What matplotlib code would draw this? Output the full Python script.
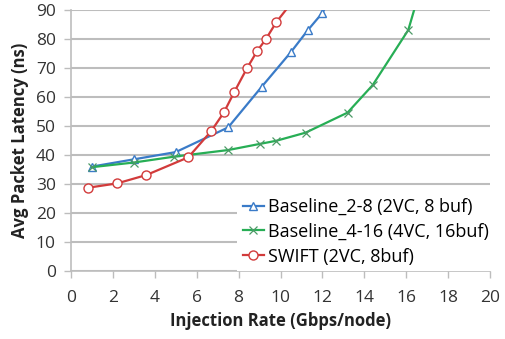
import numpy as np
import matplotlib
matplotlib.use('Agg')
import matplotlib.pyplot as plt

plt.rcParams.update({'font.family': ['Open Sans', 'DejaVu Sans'], 'font.size': 12})

BLUE, GREEN, RED, GRID = '#3A7BC8', '#27AE55', '#D23B3B', '#BDBDBD'

# ── data ──
base28_x = [1.0, 3.0, 5.0, 7.5, 9.1, 10.5, 11.3, 12.0, 12.3]
base28_y = [36.0, 38.5, 41.0, 49.5, 63.5, 75.5, 83.0, 89.0, 93.0]

base416_x = [1.0, 3.0, 4.9, 7.5, 9.0, 9.8, 11.2, 13.2, 14.4, 16.1, 16.5]
base416_y = [35.8, 37.4, 39.4, 41.7, 43.8, 44.9, 47.7, 54.6, 64.1, 83.1, 93.0]

swift_x = [0.8, 2.2, 3.6, 5.6, 6.7, 7.3, 7.8, 8.4, 8.9, 9.3, 9.8, 10.8]
swift_y = [28.7, 30.2, 33.1, 39.2, 48.3, 54.7, 61.8, 69.9, 76.0, 79.9, 85.8, 95.0]

labels = ['Baseline_2-8 (2VC, 8 buf)', 'Baseline_4-16 (4VC, 16buf)', 'SWIFT (2VC, 8buf)']

fig = plt.figure(figsize=(5.05, 3.39), dpi=100)
ax = fig.add_axes([0.1406, 0.2006, 0.8297, 0.770])

ax.plot(base28_x, base28_y, '-^', color=BLUE, lw=1.6, ms=6, mfc='white', mec=BLUE,
        mew=1.0, label=labels[0], zorder=3)
ax.plot(base416_x, base416_y, '-x', color=GREEN, lw=1.6, ms=6, mec='#4C9A66',
        mew=0.9, label=labels[1], zorder=3)
ax.plot(swift_x, swift_y, '-o', color=RED, lw=1.6, ms=6.5, mfc='white', mec=RED,
        mew=1.0, label=labels[2], zorder=4)

ax.set_xlim(0, 20)
ax.set_ylim(0, 90)
ax.set_xticks(range(0, 21, 2))
ax.set_yticks(range(0, 91, 10))
ax.yaxis.grid(True, color=GRID, lw=1.5)
ax.set_axisbelow(True)
for s in ['top', 'right']:
    ax.spines[s].set_visible(False)
for s in ['left', 'bottom']:
    ax.spines[s].set_color(GRID)
    ax.spines[s].set_linewidth(1.2)
ax.tick_params(colors=GRID, labelcolor='#333333', length=5, width=1.0, labelsize=12.5)
ax.tick_params(axis='x', pad=9)
ax.tick_params(axis='y', pad=6)

ax.set_xlabel('Injection Rate (Gbps/node)', fontweight='bold', fontsize=12, color='#222222',
              labelpad=4)
ax.set_ylabel('Avg Packet Latency (ns)', fontweight='bold', fontsize=12, color='#222222',
              labelpad=5)

leg = ax.legend(loc='lower right', frameon=True, fancybox=False, edgecolor='none',
                facecolor='white', framealpha=1, fontsize=13, handlelength=1.2,
                handletextpad=0.2, labelspacing=0.38, borderaxespad=0.0,
                borderpad=0.3, bbox_to_anchor=(1.01, 0.0))
leg.get_frame().set_linewidth(0)

fig.savefig('out.png', dpi=100)
